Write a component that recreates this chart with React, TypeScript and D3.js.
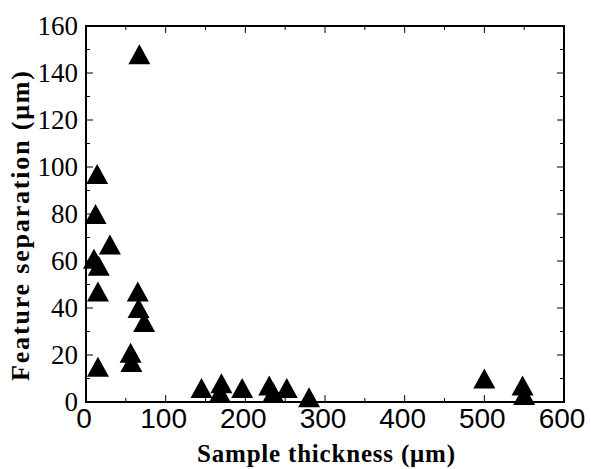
import { useEffect, useRef } from "react";
import * as d3 from "d3";

// sample thickness (um) and feature separation (um)
const thickness = [67, 14, 12, 30, 10, 16, 15, 65, 66, 73, 56, 57, 15, 145, 170, 168, 196, 230, 235, 252, 280, 500, 548, 550];
const separation = [148, 97, 80, 67, 61, 58, 47, 47, 40, 34, 21, 17, 15, 6, 8, 4, 6, 7, 4, 6, 2, 10, 7, 3];

const xTicks = [0, 100, 200, 300, 400, 500, 600];
const yTicks = [0, 20, 40, 60, 80, 100, 120, 140, 160];

const width = 591;
const height = 469;
const margin = { left: 86, right: 27, top: 26, bottom: 67 };

const serif = "'Liberation Serif', 'Times New Roman', serif";
const sans = "'Liberation Sans', Arial, sans-serif";

function App() {
  const svgRef = useRef<SVGSVGElement>(null);

  useEffect(() => {
    const svg = d3.select(svgRef.current);
    svg.selectAll("*").remove();

    const x = d3.scaleLinear().domain([0, 600]).range([margin.left, width - margin.right]);
    const y = d3.scaleLinear().domain([0, 160]).range([height - margin.bottom, margin.top]);

    const x0 = x(0), x1 = x(600), y0 = y(0), y1 = y(160);

    // frame
    svg.append("rect")
      .attr("x", x0).attr("y", y1)
      .attr("width", x1 - x0).attr("height", y0 - y1)
      .attr("fill", "none").attr("stroke", "#000").attr("stroke-width", 2);

    // inward ticks on all four sides
    const ticks = svg.append("g").attr("stroke", "#000").attr("stroke-width", 1);
    d3.range(0, 601, 50).forEach((v) => {
      const len = v % 100 === 0 ? 7 : 4;
      ticks.append("line").attr("x1", x(v)).attr("x2", x(v)).attr("y1", y0).attr("y2", y0 - len);
      ticks.append("line").attr("x1", x(v)).attr("x2", x(v)).attr("y1", y1).attr("y2", y1 + len);
    });
    d3.range(0, 161, 10).forEach((v) => {
      const len = v % 20 === 0 ? 7 : 4;
      ticks.append("line").attr("x1", x0).attr("x2", x0 + len).attr("y1", y(v)).attr("y2", y(v));
      ticks.append("line").attr("x1", x1).attr("x2", x1 - len).attr("y1", y(v)).attr("y2", y(v));
    });

    // tick labels
    svg.append("g").selectAll("text").data(xTicks).join("text")
      .attr("x", (d) => x(d) - 2).attr("y", 428)
      .attr("text-anchor", "middle")
      .attr("font-family", sans)
      .attr("font-size", 28)
      .text((d) => d);

    svg.append("g").selectAll("text").data(yTicks).join("text")
      .attr("x", x0 - 8).attr("y", (d) => y(d) + 9)
      .attr("text-anchor", "end")
      .attr("font-family", serif)
      .attr("font-size", 27)
      .text((d) => d);

    // axis titles
    svg.append("text")
      .attr("x", 326).attr("y", 462)
      .attr("text-anchor", "middle")
      .attr("font-family", serif)
      .attr("font-weight", "bold").attr("font-size", 25)
      .attr("textLength", 258).attr("lengthAdjust", "spacing")
      .text("Sample thickness (\u03bcm)");

    svg.append("text")
      .attr("transform", "translate(29,226) rotate(-90)")
      .attr("text-anchor", "middle")
      .attr("font-family", serif)
      .attr("font-weight", "bold").attr("font-size", 26)
      .attr("textLength", 310).attr("lengthAdjust", "spacing")
      .text("Feature separation (\u03bcm)");

    // triangle markers
    const tw = 22, th = 20;
    const tri = `M0,${-th / 2}L${tw / 2},${th / 2}L${-tw / 2},${th / 2}Z`;
    svg.append("g").selectAll("path").data(thickness).join("path")
      .attr("d", tri)
      .attr("transform", (d, i) => `translate(${x(d)},${y(separation[i])})`)
      .attr("fill", "#000");
  }, []);

  return (
    <svg
      ref={svgRef}
      width={width}
      height={height}
      style={{ position: "absolute", left: 0, top: 0, background: "#fff" }}
    />
  );
}

export default App;
